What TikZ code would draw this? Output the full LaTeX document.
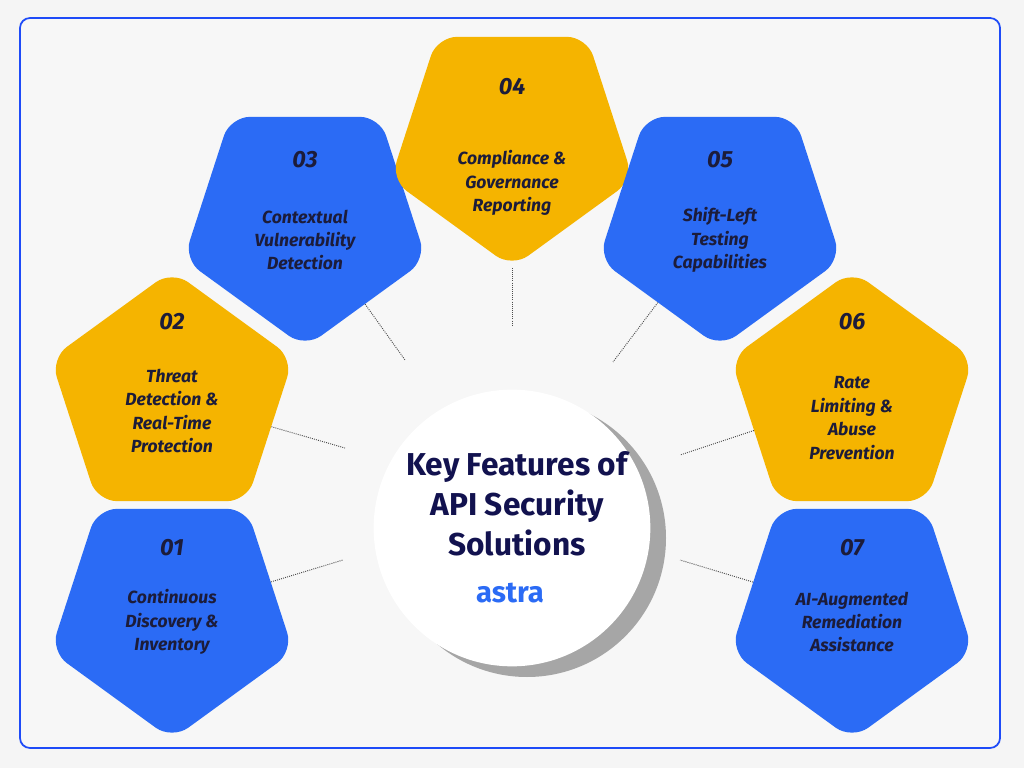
\documentclass[tikz,border=0pt]{standalone}
\usepackage{fontspec}
\setmainfont{Fira Sans}
\usetikzlibrary{shapes.geometric}
\definecolor{pblue}{HTML}{2B6BF5}
\definecolor{pyellow}{HTML}{F5B400}
\definecolor{navy}{HTML}{12124F}
\definecolor{ink}{HTML}{1C1C3A}
\tikzset{
  penta/.style={regular polygon, regular polygon sides=5, minimum size=7.65cm,
    inner sep=0pt, rounded corners=0.6cm, fill=#1},
  down/.style={shape border rotate=180},
  num/.style={font=\fontsize{20}{22}\selectfont\bfseries\itshape, text=ink},
  lbl/.style={font=\fontsize{15}{20}\selectfont\bfseries\itshape, text=ink, align=center},
  link/.style={densely dotted, thick, black!70}
}
\begin{document}
\begin{tikzpicture}[x=0.03cm,y=-0.03cm]
  \fill[white!96!black] (0,0) rectangle (1024,768);
  \draw[pblue!70!blue, line width=1.5pt, rounded corners=0.3cm, fill=white!97!black] (20,18) rectangle (1000,748);
  % centre circle with its shadow
  \fill[black!35] (527,538) circle (139);
  \node[circle, fill=white, minimum size=8.3cm, inner sep=0pt] (hub) at (512,528) {};
  \node[font=\fontsize{27}{34}\selectfont\bfseries, text=navy, align=center] (title) at (517,504)
    {Key Features of\\API Security\\Solutions};
  \node[font=\fontsize{25}{26}\selectfont\bfseries, text=pblue] (logo) at (510,593) {astra};
  % pentagons
  \node[penta=pblue, down] (p1) at (172,612) {};
  \node[penta=pyellow] (p2) at (172,398) {};
  \node[penta=pblue, down] (p3) at (305,220) {};
  \node[penta=pyellow, down] (p4) at (512,140) {};
  \node[penta=pblue, down] (p5) at (720,220) {};
  \node[penta=pyellow] (p6) at (852,398) {};
  \node[penta=pblue, down] (p7) at (852,612) {};
  % numbers and labels
  \node[num] (n1) at (172,548) {01};
  \node[lbl] (l1) at (172,622) {Continuous\\Discovery \&\\Inventory};
  \node[num] (n2) at (172,322) {02};
  \node[lbl] (l2) at (172,411) {Threat\\Detection \&\\Real-Time\\Protection};
  \node[num] (n3) at (305,160) {03};
  \node[lbl] (l3) at (305,240) {Contextual\\Vulnerability\\Detection};
  \node[num] (n4) at (512,87) {04};
  \node[lbl] (l4) at (512,183) {Compliance \&\\Governance\\Reporting};
  \node[num] (n5) at (720,160) {05};
  \node[lbl] (l5) at (720,240) {Shift-Left\\Testing\\Capabilities};
  \node[num] (n6) at (852,322) {06};
  \node[lbl] (l6) at (852,418) {Rate\\Limiting \&\\Abuse\\Prevention};
  \node[num] (n7) at (852,548) {07};
  \node[lbl] (l7) at (852,622) {AI-Augmented\\Remediation\\Assistance};
  % dotted links
  \coordinate (c1) at (343,560);
  \coordinate (c2) at (345,448);
  \coordinate (c3) at (405,360);
  \coordinate (c4) at (512,325);
  \coordinate (c5) at (613,362);
  \coordinate (c6) at (680,455);
  \coordinate (c7) at (680,560);
  \foreach \i in {1,...,7} \draw[link] (p\i) -- (c\i);
\end{tikzpicture}
\end{document}
